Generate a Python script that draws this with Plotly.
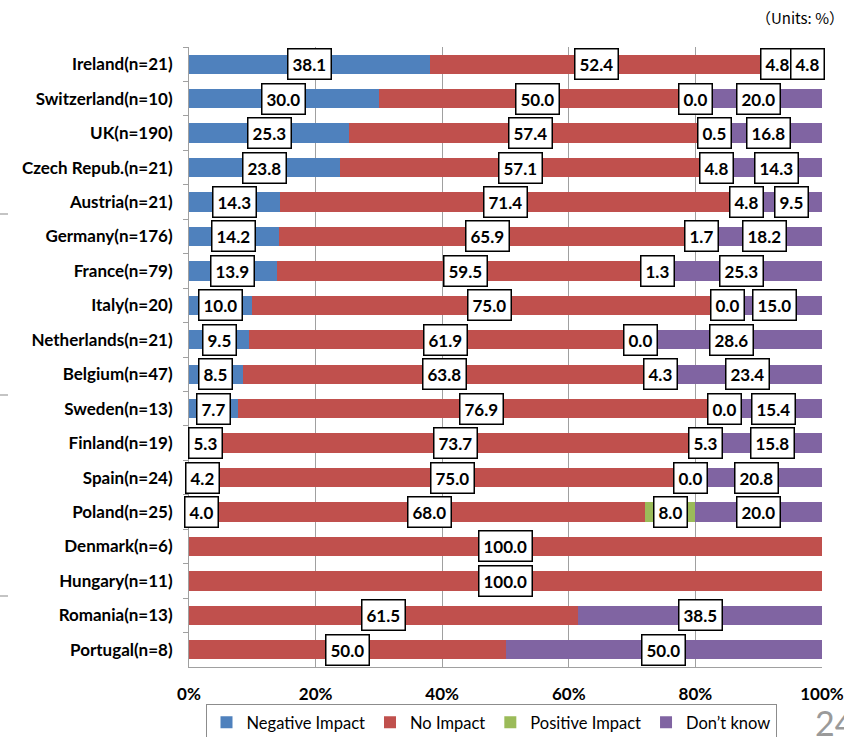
import plotly.graph_objects as go

# Survey results by country (share of respondents, %)
countries = [
    "Ireland(n=21)", "Switzerland(n=10)", "UK(n=190)", "Czech Repub.(n=21)",
    "Austria(n=21)", "Germany(n=176)", "France(n=79)", "Italy(n=20)",
    "Netherlands(n=21)", "Belgium(n=47)", "Sweden(n=13)", "Finland(n=19)",
    "Spain(n=24)", "Poland(n=25)", "Denmark(n=6)", "Hungary(n=11)",
    "Romania(n=13)", "Portugal(n=8)",
]
negative_impact = [38.1, 30.0, 25.3, 23.8, 14.3, 14.2, 13.9, 10.0, 9.5, 8.5,
                   7.7, 5.3, 4.2, 4.0, None, None, None, None]
no_impact = [52.4, 50.0, 57.4, 57.1, 71.4, 65.9, 59.5, 75.0, 61.9, 63.8,
             76.9, 73.7, 75.0, 68.0, 100.0, 100.0, 61.5, 50.0]
positive_impact = [4.8, 0.0, 0.5, 4.8, 4.8, 1.7, 1.3, 0.0, 0.0, 4.3,
                   0.0, 5.3, 0.0, 8.0, None, None, None, None]
dont_know = [4.8, 20.0, 16.8, 14.3, 9.5, 18.2, 25.3, 15.0, 28.6, 23.4,
             15.4, 15.8, 20.8, 20.0, None, None, 38.5, 50.0]

series = [
    ("Negative Impact", negative_impact, "#4F81BD"),
    ("No Impact", no_impact, "#C0504D"),
    ("Positive Impact", positive_impact, "#9BBB59"),
    ("Don\u2019t know", dont_know, "#8064A2"),
]

FONT = "Lato"
PLOT_W, PLOT_H = 633, 620

fig = go.Figure()
for name, vals, color in series:
    fig.add_trace(go.Bar(
        y=countries, x=vals, name=name, orientation="h",
        marker=dict(color=color, line=dict(width=0)),
    ))

# Boxed value labels centred on each segment
cum = [0.0] * len(countries)
for name, vals, color in series:
    for i, v in enumerate(vals):
        if v is None:
            continue
        fig.add_annotation(
            x=cum[i] + v / 2, y=countries[i], xref="x", yref="y",
            text=f"<b>{v:.1f}</b>", showarrow=False,
            font=dict(family=FONT, size=17, color="black"),
            bgcolor="white", bordercolor="black", borderwidth=1.5, borderpad=4,
        )
        cum[i] += v

fig.update_layout(
    barmode="stack",
    bargap=0.44,
    width=844, height=737,
    margin=dict(l=189, r=22, t=47, b=70, autoexpand=False),
    paper_bgcolor="white", plot_bgcolor="white",
    font=dict(family=FONT, color="black"),
    showlegend=True,
    legend=dict(
        orientation="h", x=(491 - 189) / PLOT_W, xanchor="center",
        y=-(704 - 667) / PLOT_H, yanchor="top",
        bordercolor="#8c8c8c", borderwidth=1,
        font=dict(family=FONT, size=16.5, color="black"),
        traceorder="normal", itemwidth=30,
    ),
)

fig.update_xaxes(
    range=[0, 100], tickvals=[0, 20, 40, 60, 80, 100],
    ticktext=["0%", "20%", "40%", "60%", "80%", "100%"],
    showgrid=True, gridcolor="#a0a0a0", gridwidth=1,
    showline=True, linecolor="#a0a0a0", linewidth=1,
    ticks="", ticklabelstandoff=12, automargin=False,
    tickfont=dict(family=FONT, size=17, weight="bold"),
    zeroline=False,
)
fig.update_yaxes(
    categoryorder="array", categoryarray=countries, autorange="reversed",
    showline=True, linecolor="#a0a0a0", linewidth=1,
    ticks="outside", ticklen=5, tickcolor="#a0a0a0", tickson="boundaries",
    ticklabelstandoff=12, automargin=False,
    tickfont=dict(family=FONT, size=17, weight="bold"),
    showgrid=False,
)

# Units note and page number
fig.add_annotation(
    text="\uff08Units: %\uff09", xref="paper", yref="paper",
    x=(846 - 189) / PLOT_W, y=(667 - 5) / PLOT_H,
    xanchor="right", yanchor="top",
    showarrow=False, font=dict(family="Noto Sans CJK JP", size=15, color="black"),
)
fig.add_annotation(
    text="24", xref="paper", yref="paper",
    x=(813 - 189) / PLOT_W, y=-(700 - 667) / PLOT_H,
    xanchor="left", yanchor="top",
    showarrow=False, font=dict(family=FONT, size=34, color="#9a9a9a"),
)

# Small slide marks at the left edge
for py in [214, 395, 596]:
    fig.add_shape(
        type="line", xref="paper", yref="paper",
        x0=-189 / PLOT_W, x1=-181 / PLOT_W,
        y0=(667 - py) / PLOT_H, y1=(667 - py) / PLOT_H,
        line=dict(color="#b0b0b0", width=1.5),
    )

fig.write_html("out.html")
